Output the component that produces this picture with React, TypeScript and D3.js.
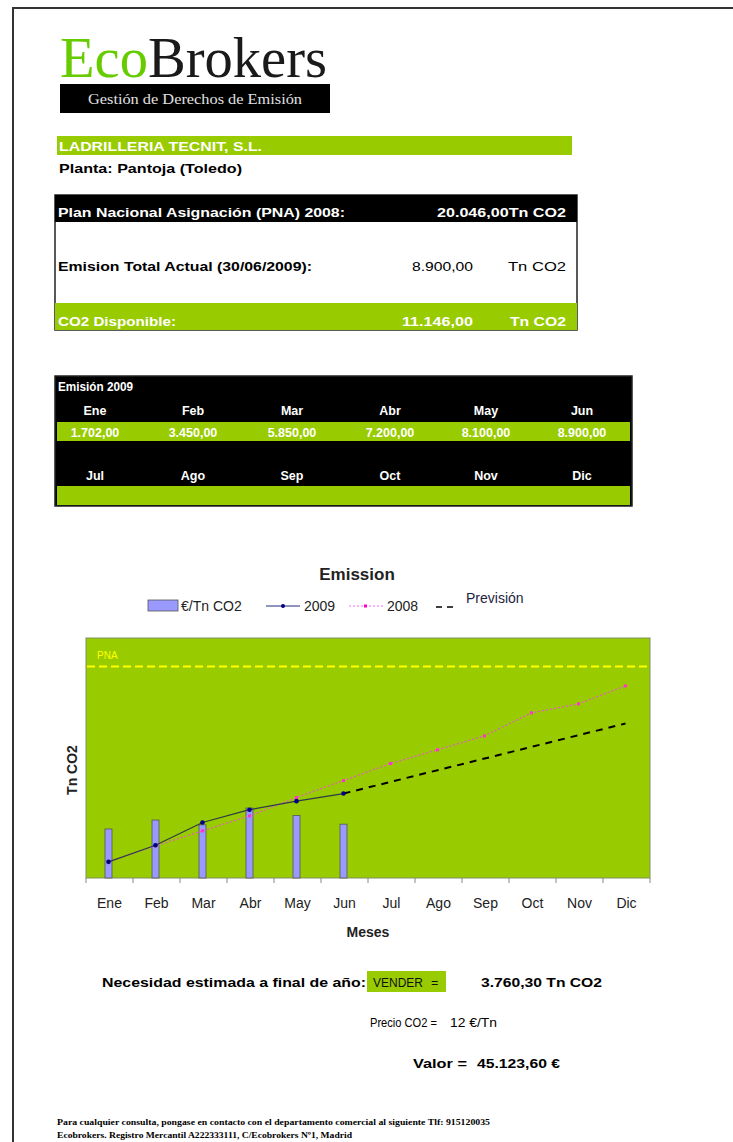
import React from "react";
import * as d3 from "d3";

const months = ["Ene", "Feb", "Mar", "Abr", "May", "Jun", "Jul", "Ago", "Sep", "Oct", "Nov", "Dic"];
const emission2009 = [1702, 3450, 5850, 7200, 8100, 8900];
const emission2008 = [1707, 3390, 4970, 6550, 8480, 10270, 12070, 13510, 14980, 17410, 18360, 20250];
const pricePerTn = [14.3, 16.9, 15.5, 20.4, 18.2, 15.7];
const previsionMonths = ["Jun", "Dic"];
const previsionValues = [8900, 16285.7];
const pnaLevel = 22300;
const yMax = 25300;
const priceMax = 70;

const W = 733;
const H = 1142;
const SANS = "'Liberation Sans', Arial, sans-serif";
const SERIF = "'Liberation Serif', 'Times New Roman', serif";
const GREEN = "#99cc00";

const fmt = (v: number) => {
  const s = v.toFixed(2).split(".");
  const int = s[0].replace(/\B(?=(\d{3})+(?!\d))/g, ".");
  return int + "," + s[1];
};

type TP = {
  x: number; y: number; children: React.ReactNode; size?: number; bold?: boolean;
  fill?: string; anchor?: "start" | "middle" | "end"; len?: number; family?: string;
};
const T = ({ x, y, children, size = 12, bold = false, fill = "#000", anchor = "start", len, family = SANS }: TP) => (
  <text x={x} y={y} fontSize={size} fontWeight={bold ? "bold" : "normal"} fill={fill}
    textAnchor={anchor} fontFamily={family}
    {...(len ? { textLength: len, lengthAdjust: "spacingAndGlyphs" } : {})}>{children}</text>
);

export default function App() {
  const plot = { x0: 86, x1: 650, y0: 638, y1: 878 };
  const x = d3.scaleBand<string>().domain(months).range([plot.x0, plot.x1]);
  const cx = (m: string) => (x(m) as number) + x.bandwidth() / 2;
  const y = d3.scaleLinear().domain([0, yMax]).range([plot.y1, plot.y0]);
  const y2 = d3.scaleLinear().domain([0, priceMax]).range([plot.y1, plot.y0]);

  const line = d3.line<[string, number]>().x((d) => cx(d[0]) - 1).y((d) => y(d[1]));
  const d2009 = emission2009.map((v, i) => [months[i], v] as [string, number]);
  const d2008 = emission2008.map((v, i) => [months[i], v] as [string, number]);
  const dPrev = previsionValues.map((v, i) => [previsionMonths[i], v] as [string, number]);

  const colCenters1 = [95, 193, 292, 390, 486, 582];

  return (
    <svg width={W} height={H} style={{ position: "absolute", left: 0, top: 0, background: "#fff" }}>
      {/* page border */}
      <rect x={13} y={8} width={W} height={H} fill="#fff" stroke="#333" strokeWidth={2} />

      {/* logo */}
      <text x={60} y={77} fontSize={57} fontFamily={SERIF} textLength={267} lengthAdjust="spacingAndGlyphs">
        <tspan fill="#66cc00">Eco</tspan><tspan fill="#1a1a1a">Brokers</tspan>
      </text>
      <rect x={60} y={84} width={270} height={29} fill="#000" />
      <T x={88} y={104} size={14} fill="#e0e0e0" family={SERIF} len={214}>Gestión de Derechos de Emisión</T>

      {/* company */}
      <rect x={57} y={136} width={515} height={19} fill={GREEN} />
      <T x={59} y={151} size={12.5} bold fill="#fff" len={203}>LADRILLERIA TECNIT, S.L.</T>
      <T x={59} y={173} size={12.5} bold len={183}>Planta: Pantoja (Toledo)</T>

      {/* PNA table */}
      <rect x={55} y={195} width={522} height={135} fill="#fff" stroke="#222" strokeWidth={1.5} />
      <rect x={55} y={195} width={522} height={27} fill="#000" />
      <rect x={55} y={303} width={522} height={27} fill={GREEN} />
      <T x={58} y={217} size={12} bold fill="#fff" len={287}>Plan Nacional Asignación (PNA) 2008:</T>
      <T x={437} y={217} size={12} bold fill="#fff" len={129}>20.046,00Tn CO2</T>
      <T x={58} y={271} size={12} bold len={254}>Emision Total Actual (30/06/2009):</T>
      <T x={412} y={271} size={12.5} len={61}>{fmt(emission2009[5])}</T>
      <T x={508} y={271} size={12.5} len={58}>Tn CO2</T>
      <T x={58} y={326} size={12} bold fill="#fff" len={118}>CO2 Disponible:</T>
      <T x={402} y={326} size={12} bold fill="#fff" len={71}>11.146,00</T>
      <T x={510} y={326} size={12} bold fill="#fff" len={56}>Tn CO2</T>

      {/* Emission 2009 table */}
      <rect x={55} y={376} width={577} height={130} fill="#000" stroke="#222" strokeWidth={1.5} />
      <T x={58} y={391} size={12} bold fill="#fff" len={75}>Emisión 2009</T>
      <rect x={57} y={422} width={573} height={19} fill={GREEN} />
      <rect x={57} y={486} width={573} height={19} fill={GREEN} />
      {months.slice(0, 6).map((m, i) => (
        <T key={m} x={colCenters1[i]} y={415} size={12.5} bold fill="#fff" anchor="middle">{m}</T>
      ))}
      {emission2009.map((v, i) => (
        <T key={i} x={colCenters1[i]} y={437} size={12.5} bold fill="#fff" anchor="middle">{fmt(v)}</T>
      ))}
      {months.slice(6).map((m, i) => (
        <T key={m} x={colCenters1[i]} y={480} size={12.5} bold fill="#fff" anchor="middle">{m}</T>
      ))}

      {/* chart title + legend */}
      <T x={357} y={580} size={17} bold anchor="middle" fill="#222">Emission</T>
      <rect x={148} y={600} width={30} height={11} fill="#9999ff" stroke="#555" strokeWidth={0.8} />
      <T x={181} y={611} size={14} fill="#222">€/Tn CO2</T>
      <line x1={266} x2={300} y1={606} y2={606} stroke="#1f2a80" strokeWidth={1} />
      <circle cx={283} cy={606} r={2} fill="#000080" />
      <T x={304} y={611} size={14} fill="#222">2009</T>
      <line x1={349} x2={383} y1={606} y2={606} stroke="#ff66ff" strokeWidth={1.2} strokeDasharray="2,2" />
      <rect x={364} y={604.5} width={3} height={3} fill="#ff00cc" />
      <T x={387} y={611} size={14} fill="#222">2008</T>
      <line x1={436} x2={458} y1={607} y2={607} stroke="#000" strokeWidth={1.5} strokeDasharray="6,5" />
      <T x={466} y={603} size={14} fill="#1c2440">Previsión</T>

      {/* plot area */}
      <rect x={plot.x0} y={plot.y0} width={plot.x1 - plot.x0} height={plot.y1 - plot.y0} fill={GREEN} stroke="#7f8f60" strokeWidth={1} />
      <line x1={plot.x0 + 1} x2={plot.x1 - 2} y1={y(pnaLevel)} y2={y(pnaLevel)} stroke="#ffff00" strokeWidth={2} strokeDasharray="8,4" />
      <T x={97} y={659} size={10} fill="#ffff00">PNA</T>

      {pricePerTn.map((v, i) => (
        <rect key={i} x={cx(months[i]) - 4.5} y={y2(v)} width={7} height={plot.y1 - y2(v)}
          fill="#9999ff" stroke="#555" strokeWidth={0.8} />
      ))}

      <path d={line(d2008) as string} fill="none" stroke="#e060c0" strokeWidth={1.3} strokeDasharray="2,2" />
      {d2008.map((d, i) => (
        <rect key={i} x={cx(d[0]) - 2.5} y={y(d[1]) - 1.5} width={3} height={3} fill="#ff33cc" />
      ))}
      <path d={line(dPrev) as string} fill="none" stroke="#000" strokeWidth={2} strokeDasharray="7,6" />
      <path d={line(d2009) as string} fill="none" stroke="#2e3b48" strokeWidth={1.2} />
      {d2009.map((d, i) => (
        <circle key={i} cx={cx(d[0]) - 1} cy={y(d[1])} r={2.3} fill="#000080" />
      ))}

      {/* x axis */}
      {d3.range(months.length + 1).map((i) => {
        const xx = plot.x0 + i * x.bandwidth();
        return <line key={i} x1={xx} x2={xx} y1={plot.y1} y2={plot.y1 + 5} stroke="#888" strokeWidth={1} />;
      })}
      {months.map((m) => (
        <T key={m} x={cx(m)} y={908} size={14} anchor="middle" fill="#222">{m}</T>
      ))}
      <T x={368} y={937} size={14} bold anchor="middle" fill="#222">Meses</T>
      <text transform={`translate(77,${(plot.y0 + plot.y1) / 2 + 12}) rotate(-90)`} fontSize={14} fontWeight="bold"
        fontFamily={SANS} textAnchor="middle" fill="#222">Tn CO2</text>

      {/* bottom summary */}
      <T x={102} y={987} size={12.5} bold len={264}>Necesidad estimada a final de año:</T>
      <rect x={367} y={971} width={79} height={21} fill={GREEN} />
      <T x={373} y={987} size={12.5} len={50} fill="#111">VENDER</T>
      <T x={431} y={987} size={12.5} fill="#111">=</T>
      <T x={481} y={987} size={12.5} bold len={121}>3.760,30 Tn CO2</T>
      <T x={370} y={1027} size={12.5} len={67}>Precio CO2 =</T>
      <T x={450} y={1027} size={12.5} len={47}>12 €/Tn</T>
      <T x={413} y={1068} size={12.5} bold len={54}>Valor =</T>
      <T x={477} y={1068} size={12.5} bold len={83}>45.123,60 €</T>

      {/* footer */}
      <T x={57} y={1125} size={8.5} bold family={SERIF} len={433}>Para cualquier consulta, pongase en contacto con el departamento comercial al siguiente Tlf: 915120035</T>
      <T x={57} y={1138} size={8.5} bold family={SERIF} len={295}>Ecobrokers. Registro Mercantil A222333111, C/Ecobrokers Nº1, Madrid</T>
    </svg>
  );
}
